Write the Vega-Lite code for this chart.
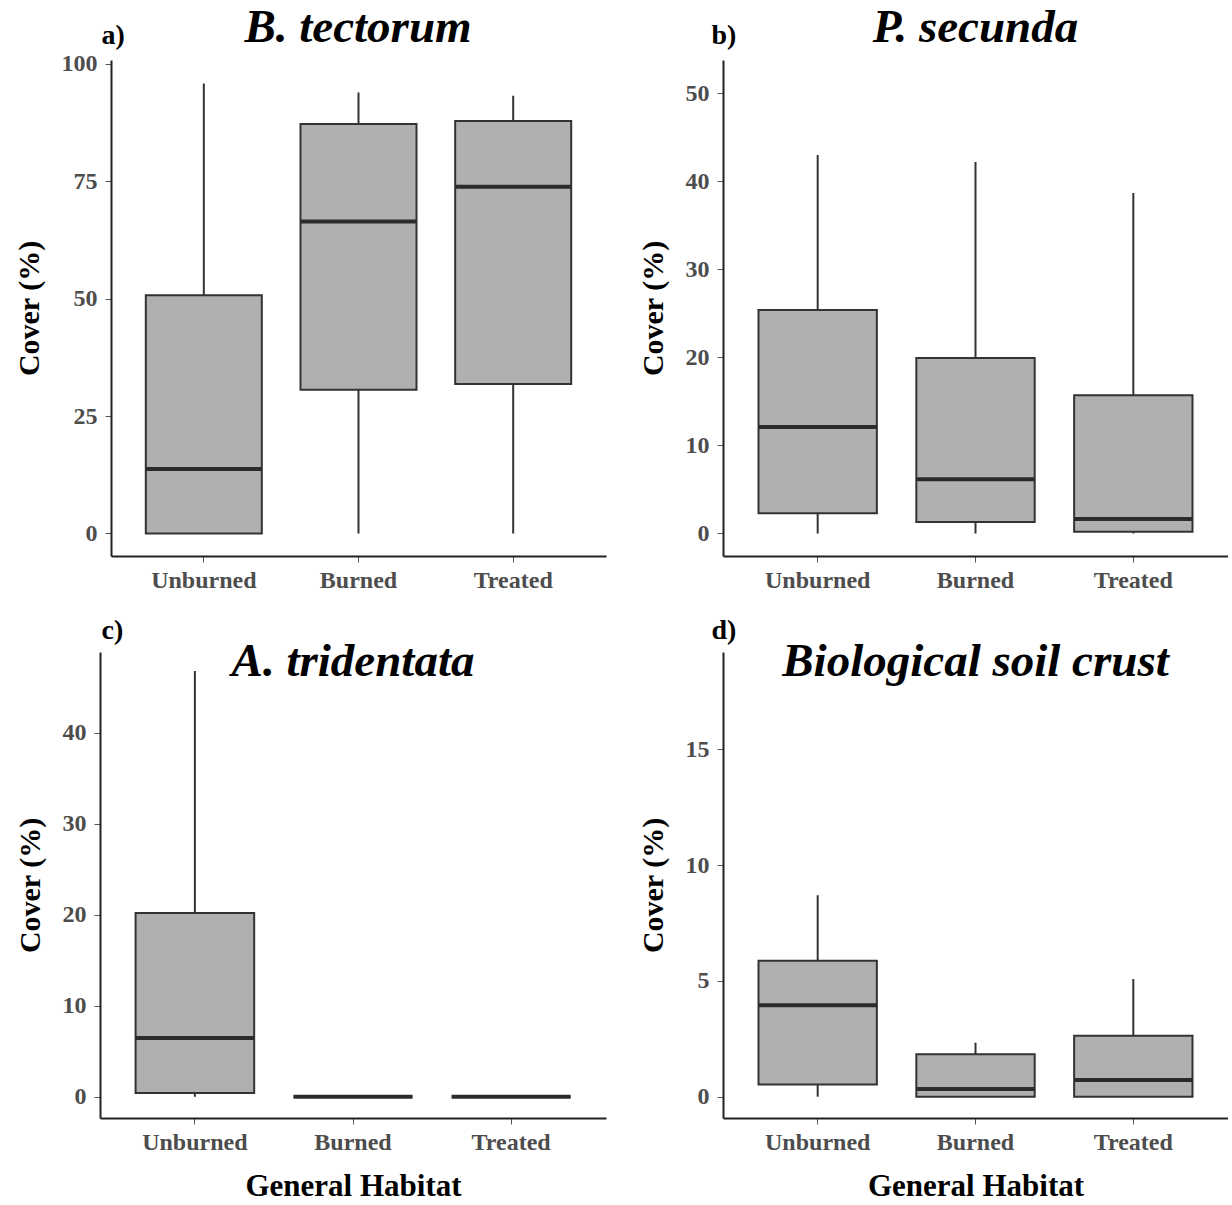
{
  "$schema": "https://vega.github.io/schema/vega-lite/v6.json",
  "padding": {"left": 14, "top": 4, "right": 0, "bottom": 0},
  "background": "white",
  "data": {"values": [
    {"panel": "a", "habitat": "Unburned", "lower": 0, "q1": 0, "median": 13.7, "q3": 50.7, "upper": 95.8},
    {"panel": "a", "habitat": "Burned", "lower": 0, "q1": 30.6, "median": 66.4, "q3": 87.2, "upper": 93.9},
    {"panel": "a", "habitat": "Treated", "lower": 0, "q1": 31.8, "median": 73.8, "q3": 87.8, "upper": 93.2},
    {"panel": "b", "habitat": "Unburned", "lower": 0, "q1": 2.3, "median": 12.1, "q3": 25.4, "upper": 43.0},
    {"panel": "b", "habitat": "Burned", "lower": 0, "q1": 1.3, "median": 6.15, "q3": 19.95, "upper": 42.2},
    {"panel": "b", "habitat": "Treated", "lower": 0, "q1": 0.2, "median": 1.65, "q3": 15.7, "upper": 38.7},
    {"panel": "c", "habitat": "Unburned", "lower": 0, "q1": 0.4, "median": 6.45, "q3": 20.2, "upper": 46.8},
    {"panel": "c", "habitat": "Burned", "lower": 0, "q1": 0, "median": 0, "q3": 0, "upper": 0},
    {"panel": "c", "habitat": "Treated", "lower": 0, "q1": 0, "median": 0, "q3": 0, "upper": 0},
    {"panel": "d", "habitat": "Unburned", "lower": 0, "q1": 0.53, "median": 3.95, "q3": 5.87, "upper": 8.7},
    {"panel": "d", "habitat": "Burned", "lower": 0, "q1": 0, "median": 0.33, "q3": 1.83, "upper": 2.33},
    {"panel": "d", "habitat": "Treated", "lower": 0, "q1": 0, "median": 0.72, "q3": 2.63, "upper": 5.08}
  ]},
  "config": {
    "view": {"stroke": null},
    "font": "Liberation Serif",
    "axis": {"grid": false, "domainColor": "#222222", "domainWidth": 2, "tickColor": "#555555", "tickWidth": 1, "tickSize": 6,
      "labelFont": "Liberation Serif", "labelFontSize": 24, "labelFontWeight": "bold", "labelColor": "#4d4d4d",
      "titleFont": "Liberation Serif", "titleFontWeight": "bold", "titleColor": "black"},
    "title": {"font": "Liberation Serif", "fontSize": 47, "fontStyle": "italic", "fontWeight": "bold", "color": "black", "anchor": "middle", "frame": "group"}
  },
  "columns": 2,
  "spacing": {"row": 24, "column": 32},
  "concat": [
    {
      "width": 506, "height": 496,
      "title": {"text": "B. tectorum", "offset": -68, "baseline": "alphabetic", "dx": 5},
      "transform": [{"filter": "datum.panel === 'a'"}],
      "resolve": {"axis": {"x": "independent"}},
      "layer": [
        {"mark": {"type": "rule", "color": "#333333", "strokeWidth": 2},
         "encoding": {
           "x": {"field": "habitat", "type": "nominal", "sort": ["Unburned", "Burned", "Treated"], "scale": {"range": [11, 506], "paddingInner": 0.25, "paddingOuter": 0.225}, "axis": {"orient": "bottom", "title": null, "labelAngle": 0, "labelPadding": 6}},
           "y": {"field": "lower", "type": "quantitative", "scale": {"domain": [-4.8, 100.8], "nice": false, "zero": false}, "axis": {"title": "Cover (%)", "offset": -11, "values": [0, 25, 50, 75, 100], "titleFontSize": 30, "titlePadding": 17, "labelPadding": 8}},
           "y2": {"field": "upper"}}},
        {"mark": {"type": "bar", "fill": "#b0b0b0", "stroke": "#333333", "strokeWidth": 2},
         "encoding": {
           "x": {"field": "habitat", "type": "nominal", "sort": ["Unburned", "Burned", "Treated"], "axis": null},
           "y": {"field": "q1", "type": "quantitative", "axis": {"title": "Cover (%)", "offset": -11, "values": [0, 25, 50, 75, 100], "titleFontSize": 30, "titlePadding": 17, "labelPadding": 8}},
           "y2": {"field": "q3"}}},
        {"mark": {"type": "tick", "color": "#2b2b2b", "thickness": 4, "size": 116, "opacity": 1},
         "encoding": {
           "x": {"field": "habitat", "type": "nominal", "sort": ["Unburned", "Burned", "Treated"], "axis": {"orient": "top", "domain": false, "ticks": false, "labels": false, "title": "a)", "titleFontSize": 28, "titleX": 1, "titleY": -17, "titleAlign": "left", "titleBaseline": "alphabetic"}},
           "y": {"field": "median", "type": "quantitative", "axis": {"title": "Cover (%)", "offset": -11, "values": [0, 25, 50, 75, 100], "titleFontSize": 30, "titlePadding": 17, "labelPadding": 8}}}}
      ]
    },
    {
      "width": 505, "height": 496,
      "title": {"text": "P. secunda", "offset": -68, "baseline": "alphabetic"},
      "transform": [{"filter": "datum.panel === 'b'"}],
      "resolve": {"axis": {"x": "independent"}},
      "layer": [
        {"mark": {"type": "rule", "color": "#333333", "strokeWidth": 2},
         "encoding": {
           "x": {"field": "habitat", "type": "nominal", "sort": ["Unburned", "Burned", "Treated"], "scale": {"paddingInner": 0.25, "paddingOuter": 0.225}, "axis": {"orient": "bottom", "title": null, "labelAngle": 0, "labelPadding": 6}},
           "y": {"field": "lower", "type": "quantitative", "scale": {"domain": [-2.56, 53.8], "nice": false, "zero": false}, "axis": {"title": "Cover (%)", "values": [0, 10, 20, 30, 40, 50], "titleFontSize": 30, "titlePadding": 17, "labelPadding": 8}},
           "y2": {"field": "upper"}}},
        {"mark": {"type": "bar", "fill": "#b0b0b0", "stroke": "#333333", "strokeWidth": 2},
         "encoding": {
           "x": {"field": "habitat", "type": "nominal", "sort": ["Unburned", "Burned", "Treated"], "axis": null},
           "y": {"field": "q1", "type": "quantitative", "axis": {"title": "Cover (%)", "values": [0, 10, 20, 30, 40, 50], "titleFontSize": 30, "titlePadding": 17, "labelPadding": 8}},
           "y2": {"field": "q3"}}},
        {"mark": {"type": "tick", "color": "#2b2b2b", "thickness": 4, "size": 118, "opacity": 1},
         "encoding": {
           "x": {"field": "habitat", "type": "nominal", "sort": ["Unburned", "Burned", "Treated"], "axis": {"orient": "top", "domain": false, "ticks": false, "labels": false, "title": "b)", "titleFontSize": 28, "titleX": -12, "titleY": -17, "titleAlign": "left", "titleBaseline": "alphabetic"}},
           "y": {"field": "median", "type": "quantitative", "axis": {"title": "Cover (%)", "values": [0, 10, 20, 30, 40, 50], "titleFontSize": 30, "titlePadding": 17, "labelPadding": 8}}}}
      ]
    },
    {
      "width": 506, "height": 466,
      "title": {"text": "A. tridentata", "offset": -107, "baseline": "alphabetic"},
      "transform": [{"filter": "datum.panel === 'c'"}],
      "resolve": {"axis": {"x": "independent"}},
      "layer": [
        {"mark": {"type": "rule", "color": "#333333", "strokeWidth": 2},
         "encoding": {
           "x": {"field": "habitat", "type": "nominal", "sort": ["Unburned", "Burned", "Treated"], "scale": {"paddingInner": 0.25, "paddingOuter": 0.225}, "axis": {"orient": "bottom", "title": "General Habitat", "titleFontSize": 31, "titlePadding": 17, "labelAngle": 0, "labelPadding": 6}},
           "y": {"field": "lower", "type": "quantitative", "scale": {"domain": [-2.34, 48.9], "nice": false, "zero": false}, "axis": {"title": "Cover (%)", "values": [0, 10, 20, 30, 40], "titleFontSize": 30, "titlePadding": 17, "labelPadding": 8}},
           "y2": {"field": "upper"}}},
        {"mark": {"type": "bar", "fill": "#b0b0b0", "stroke": "#333333", "strokeWidth": 2},
         "encoding": {
           "x": {"field": "habitat", "type": "nominal", "sort": ["Unburned", "Burned", "Treated"], "axis": null},
           "y": {"field": "q1", "type": "quantitative", "axis": {"title": "Cover (%)", "values": [0, 10, 20, 30, 40], "titleFontSize": 30, "titlePadding": 17, "labelPadding": 8}},
           "y2": {"field": "q3"}}},
        {"mark": {"type": "tick", "color": "#2b2b2b", "thickness": 4, "size": 119, "opacity": 1},
         "encoding": {
           "x": {"field": "habitat", "type": "nominal", "sort": ["Unburned", "Burned", "Treated"], "axis": {"orient": "top", "domain": false, "ticks": false, "labels": false, "title": "c)", "titleFontSize": 28, "titleX": 1, "titleY": -14, "titleAlign": "left", "titleBaseline": "alphabetic"}},
           "y": {"field": "median", "type": "quantitative", "axis": {"title": "Cover (%)", "values": [0, 10, 20, 30, 40], "titleFontSize": 30, "titlePadding": 17, "labelPadding": 8}}}}
      ]
    },
    {
      "width": 505, "height": 466,
      "title": {"text": "Biological soil crust", "offset": -107, "baseline": "alphabetic"},
      "transform": [{"filter": "datum.panel === 'd'"}],
      "resolve": {"axis": {"x": "independent"}},
      "layer": [
        {"mark": {"type": "rule", "color": "#333333", "strokeWidth": 2},
         "encoding": {
           "x": {"field": "habitat", "type": "nominal", "sort": ["Unburned", "Burned", "Treated"], "scale": {"paddingInner": 0.25, "paddingOuter": 0.225}, "axis": {"orient": "bottom", "title": "General Habitat", "titleFontSize": 31, "titlePadding": 17, "labelAngle": 0, "labelPadding": 6}},
           "y": {"field": "lower", "type": "quantitative", "scale": {"domain": [-0.92, 19.2], "nice": false, "zero": false}, "axis": {"title": "Cover (%)", "values": [0, 5, 10, 15], "titleFontSize": 30, "titlePadding": 17, "labelPadding": 8}},
           "y2": {"field": "upper"}}},
        {"mark": {"type": "bar", "fill": "#b0b0b0", "stroke": "#333333", "strokeWidth": 2},
         "encoding": {
           "x": {"field": "habitat", "type": "nominal", "sort": ["Unburned", "Burned", "Treated"], "axis": null},
           "y": {"field": "q1", "type": "quantitative", "axis": {"title": "Cover (%)", "values": [0, 5, 10, 15], "titleFontSize": 30, "titlePadding": 17, "labelPadding": 8}},
           "y2": {"field": "q3"}}},
        {"mark": {"type": "tick", "color": "#2b2b2b", "thickness": 4, "size": 118, "opacity": 1},
         "encoding": {
           "x": {"field": "habitat", "type": "nominal", "sort": ["Unburned", "Burned", "Treated"], "axis": {"orient": "top", "domain": false, "ticks": false, "labels": false, "title": "d)", "titleFontSize": 28, "titleX": -12, "titleY": -14, "titleAlign": "left", "titleBaseline": "alphabetic"}},
           "y": {"field": "median", "type": "quantitative", "axis": {"title": "Cover (%)", "values": [0, 5, 10, 15], "titleFontSize": 30, "titlePadding": 17, "labelPadding": 8}}}}
      ]
    }
  ]
}
